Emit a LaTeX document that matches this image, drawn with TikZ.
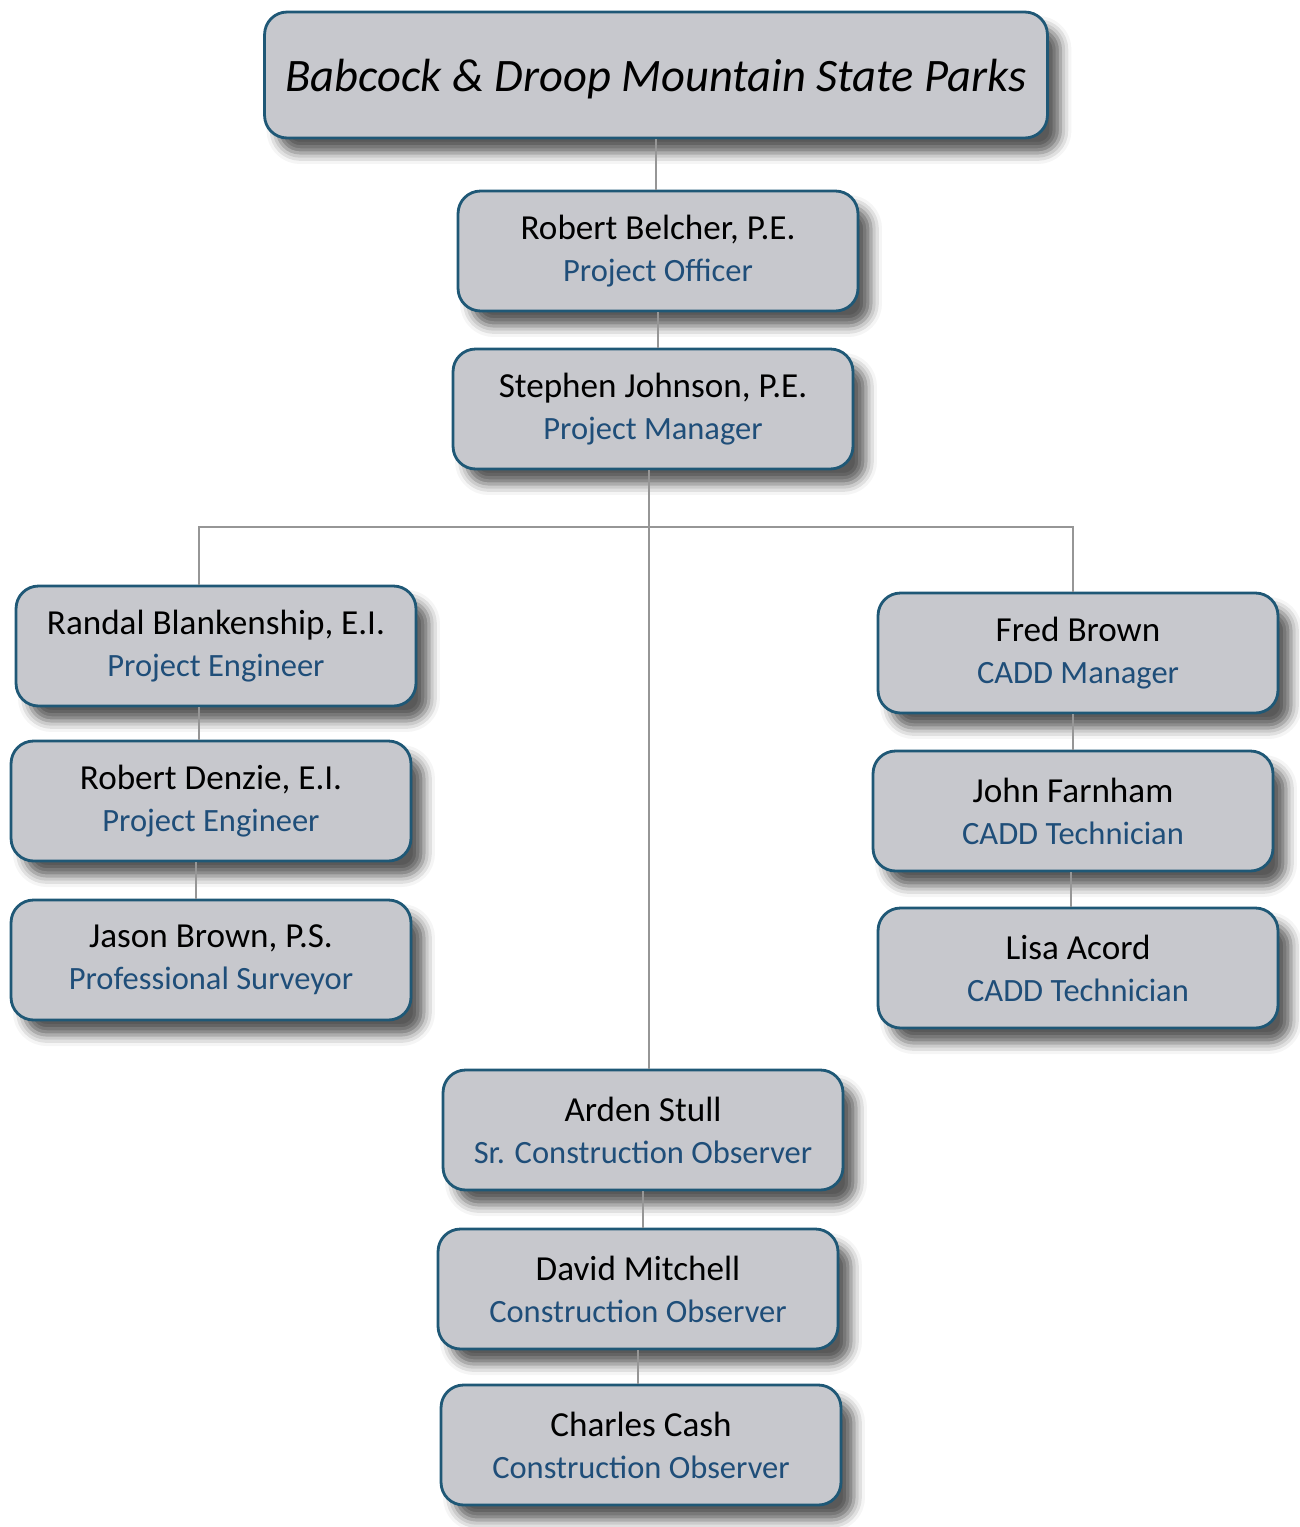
\documentclass[tikz,border=0pt]{standalone}
\usepackage{fontspec}
\setmainfont{Carlito}
\usetikzlibrary{shadows.blur}
\definecolor{boxgray}{RGB}{199,200,205}
\definecolor{boxedge}{RGB}{31,88,118}
\definecolor{roleblue}{RGB}{31,78,121}
\definecolor{linkgray}{RGB}{150,150,150}
\newcommand{\person}[2]{#1\\{\fontsize{18.5}{24}\selectfont\color{roleblue}#2}}
\tikzset{
  staffbox/.style={draw=boxedge, line width=1.6pt, fill=boxgray,
    rounded corners=0.45cm, minimum width=8cm, minimum height=2.4cm,
    align=center, font=\fontsize{20}{24}\selectfont,
    blur shadow={shadow xshift=0.26cm, shadow yshift=-0.3cm,
      shadow blur radius=0.22cm, shadow opacity=65}},
  parkbox/.style={staffbox, minimum width=15.66cm, minimum height=2.52cm,
    text height=0.85cm, text depth=0.2cm,
    font=\fontsize{26.5}{30}\selectfont\itshape},
  link/.style={draw=linkgray, line width=1.1pt}
}
\begin{document}
\begin{tikzpicture}[x=0.02cm, y=-0.02cm]
  \useasboundingbox (0,0) rectangle (1299,1527);
  % top of the chart
  \node[parkbox] (park) at (656,75) {Babcock \& Droop Mountain State Parks};
  \node[staffbox] (belcher) at (658,251) {\person{Robert Belcher, P.E.}{Project Officer}};
  \node[staffbox] (johnson) at (653,409) {\person{Stephen Johnson, P.E.}{Project Manager}};
  % engineering
  \node[staffbox] (randal) at (216,646) {\person{Randal Blankenship, E.I.}{Project Engineer}};
  \node[staffbox] (denzie) at (211,801) {\person{Robert Denzie, E.I.}{Project Engineer}};
  \node[staffbox] (jason) at (211,960) {\person{Jason Brown, P.S.}{Professional Surveyor}};
  % cadd
  \node[staffbox] (fred) at (1078,653) {\person{Fred Brown}{CADD Manager}};
  \node[staffbox] (farnham) at (1073,811) {\person{John Farnham}{CADD Technician}};
  \node[staffbox] (acord) at (1078,968) {\person{Lisa Acord}{CADD Technician}};
  % construction
  \node[staffbox] (stull) at (643,1130) {\person{Arden Stull}{Sr. Construction Observer}};
  \node[staffbox] (mitchell) at (638,1289) {\person{David Mitchell}{Construction Observer}};
  \node[staffbox] (cash) at (641,1445) {\person{Charles Cash}{Construction Observer}};
  % connectors
  \coordinate (busL) at (199,527);
  \coordinate (busR) at (1073,527);
  \coordinate (busM) at (649,527);
  \draw[link] (park.south) -- (park.south|-belcher.north);
  \draw[link] (belcher.south) -- (belcher.south|-johnson.north);
  \draw[link] (busM|-johnson.south) -- (busM|-stull.north);
  \draw[link] (busL|-randal.north) -- (busL) -- (busR) -- (busR|-fred.north);
  \draw[link] (busL|-randal.south) -- (busL|-denzie.north);
  \draw[link] (196,0|-denzie.south) -- (196,0|-jason.north);
  \draw[link] (busR|-fred.south) -- (busR|-farnham.north);
  \draw[link] (1071,0|-farnham.south) -- (1071,0|-acord.north);
  \draw[link] (stull.south) -- (stull.south|-mitchell.north);
  \draw[link] (mitchell.south) -- (mitchell.south|-cash.north);
\end{tikzpicture}
\end{document}
